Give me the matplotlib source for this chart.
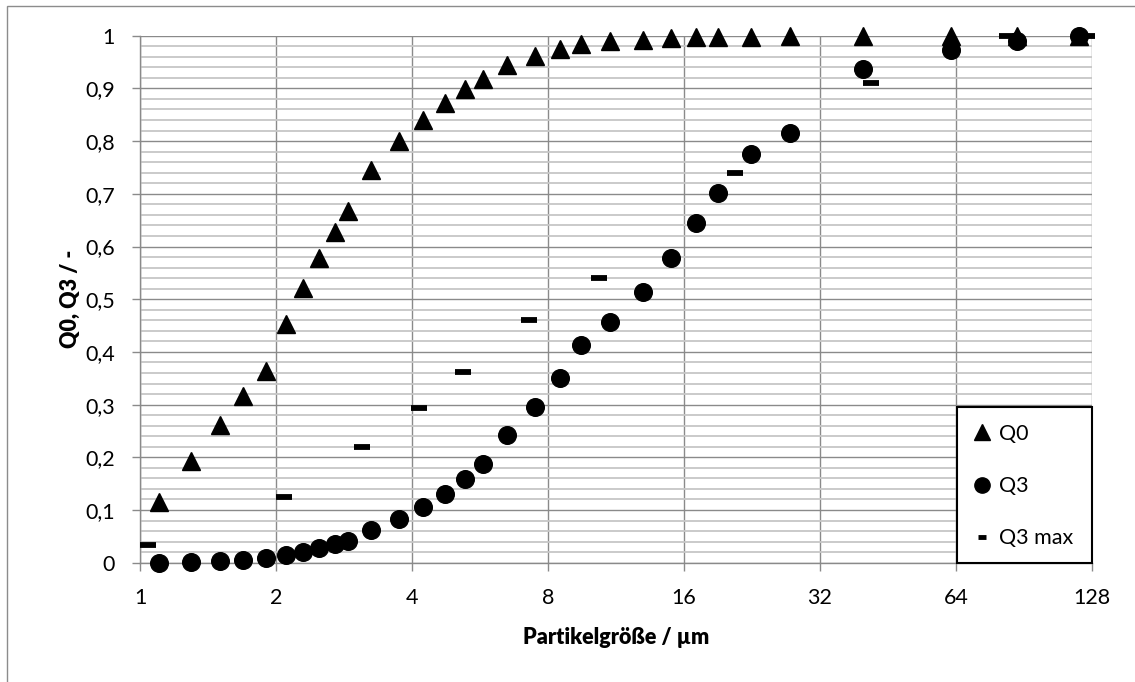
# Q0 / Q3 Summenverteilung, log2 x-Achse
import numpy as np
import matplotlib.pyplot as plt
import matplotlib as mpl
from matplotlib.lines import Line2D
from matplotlib.patches import Rectangle
from matplotlib.ticker import FixedLocator, MultipleLocator, FuncFormatter

mpl.rcParams['font.family'] = 'Lato'
mpl.rcParams['font.size'] = 15.5

###################### data ##################
# particle size (µm)
x_q = [1.10, 1.30, 1.50, 1.69, 1.90, 2.10, 2.30, 2.49, 2.70, 2.89, 3.24,
       3.74, 4.24, 4.74, 5.24, 5.74, 6.48, 7.49, 8.49, 9.48, 10.97, 12.98,
       14.95, 16.98, 19.0, 22.5, 27.4, 39.9, 62.4, 87.5, 120]
q0 = [0.115, 0.193, 0.261, 0.316, 0.364, 0.453, 0.522, 0.578, 0.628, 0.668,
      0.746, 0.801, 0.840, 0.872, 0.898, 0.917, 0.944, 0.961, 0.974, 0.984,
      0.989, 0.992, 0.995, 0.997, 0.997, 0.998, 0.999, 1.0, 1.0, 1.0, 1.0]
q3 = [0.000, 0.002, 0.004, 0.006, 0.008, 0.015, 0.021, 0.028, 0.035, 0.042,
      0.062, 0.083, 0.105, 0.130, 0.158, 0.187, 0.242, 0.295, 0.351, 0.414,
      0.457, 0.513, 0.578, 0.644, 0.701, 0.776, 0.815, 0.936, 0.972, 0.989,
      1.0]
x_max = [1.04, 2.08, 3.10, 4.15, 5.19, 7.27, 10.39, 20.78, 41.56, 83.2, 124.5]
q3_max = [0.034, 0.125, 0.220, 0.294, 0.361, 0.461, 0.541, 0.740, 0.911,
          1.0, 1.0]
x_ticks = [1, 2, 4, 8, 16, 32, 64, 128]

###################### figure ################
W, H = 1135, 682
fig = plt.figure(figsize=(W/100, H/100), dpi=100)
ax = fig.add_axes([140/W, 1 - 562.7/H, 952/W, 527/H])

major_c = '#8a8a8a'
minor_c = '#c6c6c6'

ax.set_xscale('log', base=2)
ax.set_xlim(1, 128)
ax.set_ylim(0, 1)
ax.xaxis.set_major_locator(FixedLocator(x_ticks))
ax.xaxis.set_minor_locator(FixedLocator([]))
ax.xaxis.set_major_formatter(FuncFormatter(lambda v, p: '%d' % v))
ax.yaxis.set_major_locator(MultipleLocator(0.1))
ax.yaxis.set_minor_locator(MultipleLocator(0.02))
ax.yaxis.set_major_formatter(
    FuncFormatter(lambda v, p: ('%g' % round(v, 1)).replace('.', ',')))

ax.grid(True, which='major', color=major_c, lw=1.0, zorder=0)
ax.grid(True, which='minor', axis='y', color=minor_c, lw=1.3, zorder=0)
ax.set_axisbelow(True)
for s in ['top', 'right']:
    ax.spines[s].set_visible(False)
for s in ['left', 'bottom']:
    ax.spines[s].set_color(major_c)
    ax.spines[s].set_linewidth(1.0)
ax.tick_params(which='major', length=6, width=1, color=major_c, pad=12,
               labelcolor='black')
ax.tick_params(which='minor', length=0)

ax.plot(x_q, q0, ls='none', marker='^', ms=13, color='black', clip_on=False,
        zorder=3)
ax.plot(x_q, q3, ls='none', marker='o', ms=12.7, color='black', clip_on=False,
        zorder=3)
ax.plot(x_max, q3_max, ls='none', marker='_', ms=11, mew=4.2, color='black',
        clip_on=False, zorder=4)

ax.set_xlabel('Partikelgröße / µm', fontweight='heavy', labelpad=14)
ax.set_ylabel('Q0, Q3 / -', fontweight='heavy', labelpad=3)

# legend box
lx0, ly1 = (957 - 140) / 952, (562.7 - 407) / 527
ax.add_patch(Rectangle((lx0, 0), 1 - lx0, ly1, transform=ax.transAxes,
                       facecolor='white', edgecolor='black', lw=1.5,
                       zorder=5, clip_on=False))
handles = [Line2D([], [], ls='none', marker='^', ms=11.5, color='black'),
           Line2D([], [], ls='none', marker='o', ms=11, color='black'),
           Line2D([], [], ls='none', marker='_', ms=6, mew=3.5, color='black')]
leg = ax.legend(handles, ['Q0', 'Q3', 'Q3 max'], loc='upper left',
                bbox_to_anchor=(lx0, ly1), frameon=False, borderaxespad=0,
                borderpad=0.78, handlelength=0.8, handletextpad=0.35,
                labelspacing=1.5)
leg.set_zorder(6)

# outer chart frame
fig.patches.append(Rectangle((7/W, -0.1), 1.2, 1 - 6/H + 0.1,
                             transform=fig.transFigure, fill=False,
                             ec='#8c8c8c', lw=1.0))

fig.savefig('out.png', dpi=100)
